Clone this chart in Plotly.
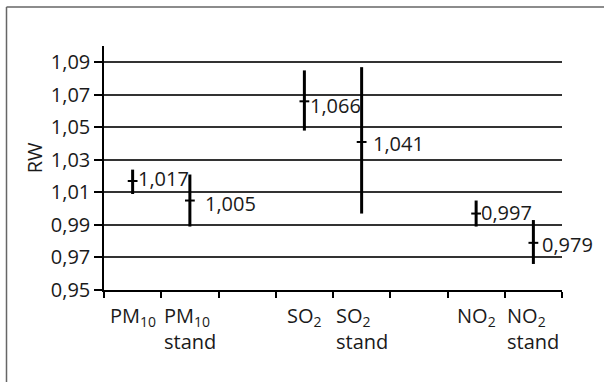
import plotly.graph_objects as go

# ---- data ----
slot_keys = ["PM10", "PM10 stand", "gap_a", "SO2", "SO2 stand", "gap_b", "NO2", "NO2 stand"]
slot_labels = ["PM<sub>10</sub>", "PM<sub>10</sub><br>stand", "", "SO<sub>2</sub>",
               "SO<sub>2</sub><br>stand", "", "NO<sub>2</sub>", "NO<sub>2</sub><br>stand"]
categories = ["PM10", "PM10 stand", "SO2", "SO2 stand", "NO2", "NO2 stand"]
rw_values = [1.017, 1.005, 1.066, 1.041, 0.997, 0.979]
ci_upper = [1.024, 1.021, 1.085, 1.087, 1.005, 0.993]
ci_lower = [1.009, 0.989, 1.048, 0.997, 0.989, 0.966]
value_labels = ["1,017", "1,005", "1,066", "1,041", "0,997", "0,979"]
y_ticks = [0.95, 0.97, 0.99, 1.01, 1.03, 1.05, 1.07, 1.09]
y_tick_text = ["0,95", "0,97", "0,99", "1,01", "1,03", "1,05", "1,07", "1,09"]

# label offsets (pixels) relative to their points
label_dx = [3, 13, 4, 9, 3, 7]
label_dy = [3, -3, -4, -2, 1, -2]

W, H = 604, 382
L, R, T, B = 104, 42, 46, 92
PW, PH = W - L - R, H - T - B
FONT = "Open Sans"
FS = 20
TXT = "#1a1a1a"

fig = go.Figure()
fig.add_trace(go.Scatter(
    x=categories, y=rw_values, mode="markers",
    marker=dict(symbol="line-ew", size=7, color="black",
                line=dict(color="black", width=2)),
    error_y=dict(type="data", symmetric=False,
                 array=[u - v for u, v in zip(ci_upper, rw_values)],
                 arrayminus=[v - l for v, l in zip(rw_values, ci_lower)],
                 width=0, thickness=3, color="black"),
    showlegend=False, hoverinfo="skip",
))

annotations = []
for c, v, t, dx, dy in zip(categories, rw_values, value_labels, label_dx, label_dy):
    annotations.append(dict(x=c, y=v, xref="x", yref="y", text=t, showarrow=False,
                            xanchor="left", yanchor="middle", xshift=dx, yshift=dy,
                            font=dict(family=FONT, size=FS, color=TXT)))
for k, lab in zip(slot_keys, slot_labels):
    if lab:
        annotations.append(dict(x=k, y=0, xref="x", yref="paper",
                                text=lab, showarrow=False, xanchor="center",
                                yanchor="top", align="left", yshift=-10,
                                font=dict(family=FONT, size=FS, color=TXT)))
annotations.append(dict(x=0, y=1.031, xref="paper", yref="y", text="RW", showarrow=False,
                        textangle=-90, xanchor="center", yanchor="middle", xshift=-70,
                        font=dict(family=FONT, size=FS, color=TXT)))

def px_x(p):
    return (p - L) / PW

def px_y(p):
    return (H - B - p) / PH

shapes = [
    dict(type="line", xref="paper", yref="paper", x0=px_x(6.5), x1=px_x(6.5),
         y0=px_y(7), y1=px_y(390), line=dict(color="#666666", width=1.5)),
    dict(type="line", xref="paper", yref="paper", x0=px_x(6.5), x1=px_x(610),
         y0=px_y(7), y1=px_y(7), line=dict(color="#666666", width=1.5)),
]

fig.update_layout(
    width=W, height=H,
    margin=dict(l=L, r=R, t=T, b=B),
    paper_bgcolor="white", plot_bgcolor="white",
    font=dict(family=FONT, size=FS, color=TXT),
    annotations=annotations, shapes=shapes,
    xaxis=dict(type="category", categoryorder="array", categoryarray=slot_keys,
               range=[-0.5, 7.5], tickson="boundaries", ticks="outside", ticklen=6,
               tickwidth=1.5, tickcolor="black", showticklabels=False, showgrid=False,
               showline=True, linecolor="black", linewidth=1.5, zeroline=False, fixedrange=True),
    yaxis=dict(range=[0.95, 1.10], tickvals=y_ticks, ticktext=y_tick_text,
               ticks="outside", ticklen=8, tickwidth=1.5, tickcolor="black",
               showgrid=True, gridcolor="#333333", gridwidth=1.5,
               showline=True, linecolor="black", linewidth=1.5, zeroline=False,
               tickfont=dict(family=FONT, size=FS, color=TXT), fixedrange=True),
)

fig.write_html("out.html", config={"displayModeBar": False},
               post_script="document.body.style.margin='0';")
